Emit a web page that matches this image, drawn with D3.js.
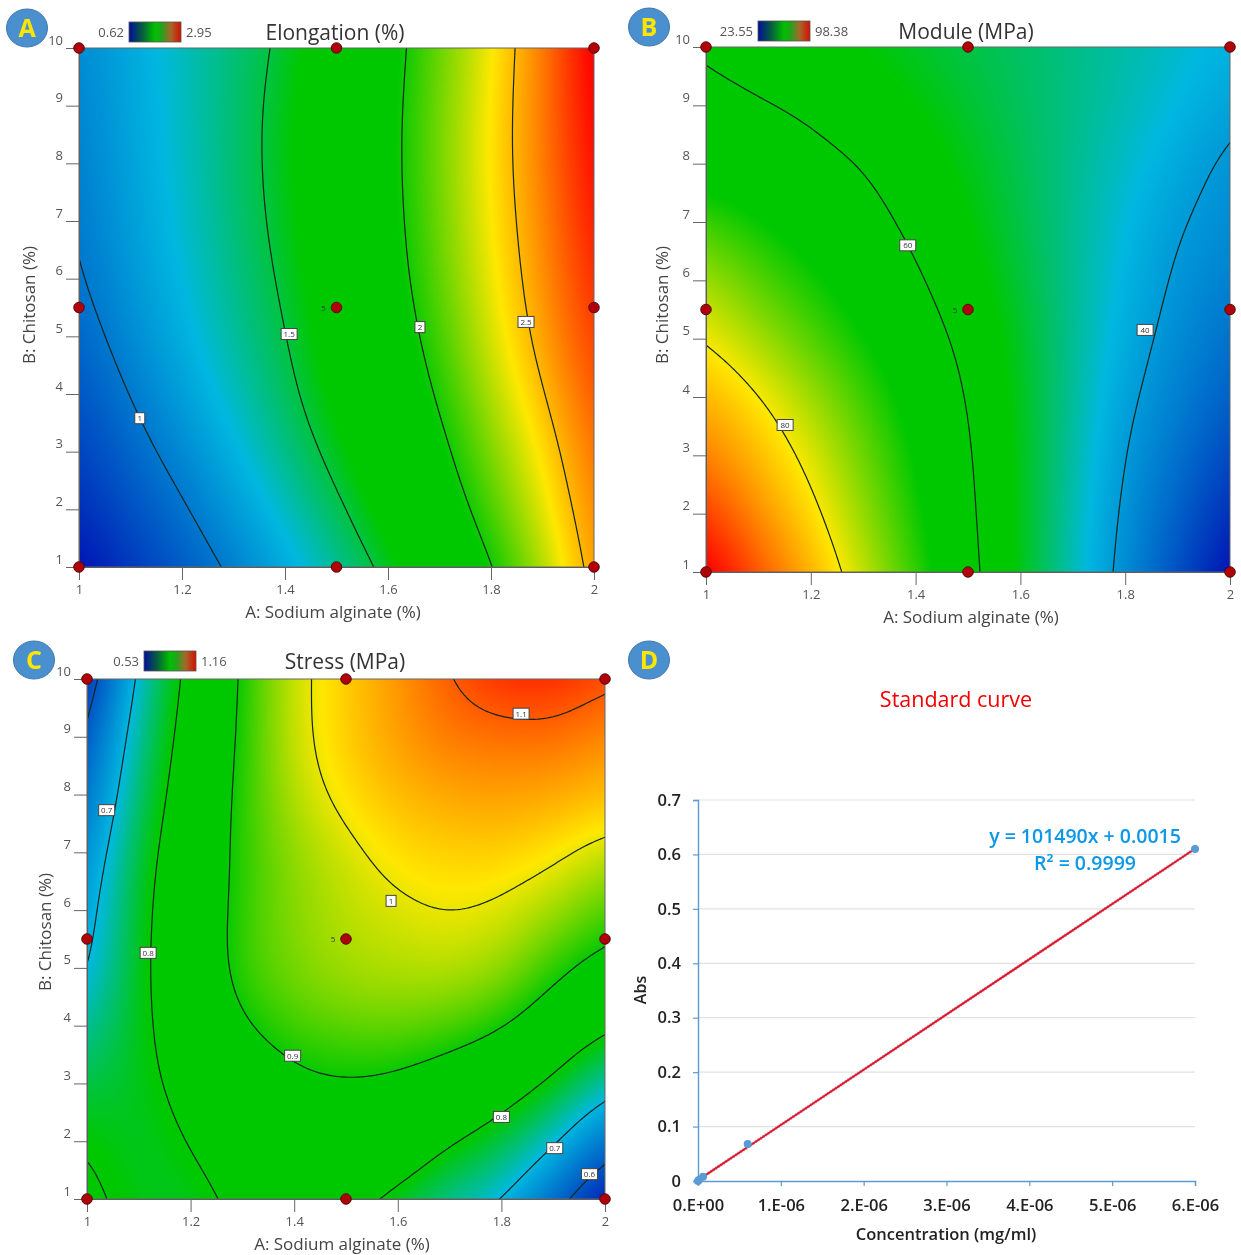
<!DOCTYPE html>
<html>
<head>
<meta charset="utf-8">
<script src="https://cdn.jsdelivr.net/npm/d3@7"></script>
<style>
body { margin: 0; background: #fff; }
svg { display: block; font-family: "Open Sans", sans-serif; filter: blur(0.45px); }
</style>
</head>
<body>
<div id="chart"></div>
<script>
// design space shared by the three response surfaces
var alginateValues = [1, 1.1, 1.2, 1.3, 1.4, 1.5, 1.6, 1.7, 1.8, 1.9, 2];
var chitosanValues = [1, 2, 3, 4, 5, 6, 7, 8, 9, 10];
var alginateTicks = [1, 1.2, 1.4, 1.6, 1.8, 2];
var chitosanTicks = [1, 2, 3, 4, 5, 6, 7, 8, 9, 10];
var designA = [1, 1.5, 2];
var designB = [1, 5.5, 10];

// one row per chitosan value (1 up to 10)
var elongationGrid = [
    [0.62, 0.756, 0.891, 1.034, 1.202, 1.37, 1.551, 1.771, 1.991, 2.258, 2.55],
    [0.72, 0.85, 0.98, 1.139, 1.303, 1.467, 1.667, 1.875, 2.098, 2.341, 2.6],
    [0.8, 0.929, 1.071, 1.23, 1.389, 1.559, 1.755, 1.951, 2.174, 2.407, 2.65],
    [0.87, 1.007, 1.157, 1.306, 1.455, 1.635, 1.827, 2.023, 2.256, 2.488, 2.72],
    [0.94, 1.076, 1.215, 1.354, 1.493, 1.683, 1.875, 2.083, 2.321, 2.556, 2.78],
    [0.99, 1.123, 1.255, 1.387, 1.529, 1.721, 1.913, 2.128, 2.36, 2.594, 2.83],
    [1.02, 1.15, 1.279, 1.409, 1.557, 1.745, 1.934, 2.151, 2.384, 2.623, 2.87],
    [1.04, 1.167, 1.294, 1.421, 1.571, 1.757, 1.944, 2.164, 2.399, 2.645, 2.9],
    [1.06, 1.181, 1.301, 1.422, 1.566, 1.753, 1.94, 2.16, 2.394, 2.653, 2.93],
    [1.08, 1.191, 1.303, 1.414, 1.538, 1.731, 1.923, 2.142, 2.377, 2.646, 2.95]
];
var moduleGrid = [
    [98.38, 91.3, 84.3, 77, 69.4, 61.8, 53.9, 46, 38.2, 30.9, 23.55],
    [93, 87.1, 81.2, 74.6, 67.9, 61.1, 53.8, 46.3, 39.1, 33, 27],
    [88, 83.5, 78.6, 72.6, 66.6, 60.6, 53.8, 46.9, 40, 35, 30],
    [84, 80.4, 75.4, 70.2, 65, 59.7, 53.5, 47.4, 41.2, 36.9, 33],
    [79.5, 75.4, 71.2, 67.1, 62.9, 58.4, 53.1, 47.7, 42.4, 38.2, 35],
    [75, 71.4, 67.9, 64.3, 60.7, 56.5, 52.1, 47.7, 43.3, 39.4, 37],
    [70, 67.3, 64.5, 61.8, 58.7, 55, 51.4, 47.7, 44, 40.4, 38.5],
    [64, 62.6, 61.3, 59.8, 56.9, 53.9, 50.9, 47.9, 45, 42, 39],
    [61.2, 60.5, 59.3, 57.1, 54.9, 52.6, 50.4, 48.2, 46, 43.7, 41.5],
    [59.5, 58, 56.5, 54.9, 53.2, 51.5, 50, 48.3, 46.6, 44.8, 43]
];
var stressGrid = [
    [0.808, 0.787, 0.785, 0.815, 0.84, 0.825, 0.785, 0.74, 0.7, 0.626, 0.55],
    [0.797, 0.78, 0.802, 0.835, 0.865, 0.875, 0.853, 0.81, 0.77, 0.71, 0.635],
    [0.765, 0.785, 0.82, 0.858, 0.885, 0.89, 0.885, 0.865, 0.835, 0.79, 0.73],
    [0.735, 0.785, 0.84, 0.895, 0.925, 0.94, 0.942, 0.93, 0.905, 0.86, 0.815],
    [0.697, 0.785, 0.855, 0.92, 0.95, 0.968, 0.975, 0.978, 0.962, 0.918, 0.88],
    [0.685, 0.78, 0.855, 0.915, 0.955, 0.978, 0.992, 1, 0.992, 0.968, 0.935],
    [0.665, 0.77, 0.85, 0.915, 0.958, 0.988, 1.014, 1.024, 1.024, 1.01, 0.985],
    [0.635, 0.75, 0.84, 0.915, 0.975, 1.014, 1.037, 1.05, 1.055, 1.05, 1.04],
    [0.612, 0.733, 0.83, 0.91, 0.985, 1.026, 1.057, 1.08, 1.085, 1.085, 1.07],
    [0.575, 0.712, 0.82, 0.907, 0.985, 1.026, 1.062, 1.098, 1.125, 1.128, 1.11]
];

// contour levels and where their little labels sit (alginate, chitosan, text)
var elongationLevels = [1, 1.5, 2, 2.5];
var moduleLevels = [40, 60, 80];
var stressLevels = [0.6, 0.7, 0.8, 0.9, 1, 1.1];
var elongationTags = [[1.118, 3.58, "1"], [1.408, 5.04, "1.5"], [1.662, 5.16, "2"], [1.868, 5.25, "2.5"]];
var moduleTags = [[1.151, 3.52, "80"], [1.385, 6.6, "60"], [1.838, 5.15, "40"]];
var stressTags = [[1.038, 7.73, "0.7"], [1.118, 5.26, "0.8"], [1.397, 3.48, "0.9"], [1.587, 6.16, "1"],
    [1.838, 9.4, "1.1"], [1.8, 2.42, "0.8"], [1.903, 1.88, "0.7"], [1.97, 1.43, "0.6"]];

// panel D, standard curve
var concTicks = [0, 1e-6, 2e-6, 3e-6, 4e-6, 5e-6, 6e-6];
var concLabels = ["0.E+00", "1.E-06", "2.E-06", "3.E-06", "4.E-06", "5.E-06", "6.E-06"];
var absTicks = [0, 0.1, 0.2, 0.3, 0.4, 0.5, 0.6, 0.7];
var concValues = [0, 1e-8, 6e-8, 6e-7, 6e-6];
var absValues = [0, 0.002, 0.008, 0.068, 0.61];
var fitSlope = 101490;
var fitIntercept = 0.0015;

var svg = d3.select("#chart").append("svg")
    .attr("width", 1241)
    .attr("height", 1255);
var defs = svg.append("defs");

// legend bar is darker than the surface itself
var legendStops = [[0, "#00109a"], [0.26, "#07603c"], [0.5, "#00c000"], [0.62, "#1fa51a"], [0.8, "#a5682a"], [1, "#d40f00"]];
var grad = defs.append("linearGradient").attr("id", "legendGrad");
legendStops.forEach(function(s) {
    grad.append("stop").attr("offset", s[0]).attr("stop-color", s[1]);
});

// surface colours with the flat green band in the middle
var surfaceStops = [0, 0.27, 0.42, 0.58, 0.76, 1];
var surfaceColors = ["#0018b4", "#00b8e0", "#00c800", "#00c800", "#ffe800", "#ff0000"];

// catmull-rom through four samples
function cubic(p0, p1, p2, p3, t) {
    return p1 + 0.5 * t * (p2 - p0 + t * (2 * p0 - 5 * p1 + 4 * p2 - p3 + t * (3 * (p1 - p2) + p3 - p0)));
}

// sample the read grid on a finer one so shading and contours come out smooth
function refine(grid, k, pad) {
    var rows = grid.length, cols = grid[0].length;
    var nx = (cols - 1) * k + 1 + 2 * pad;
    var ny = (rows - 1) * k + 1 + 2 * pad;
    var out = new Float64Array(nx * ny);
    function at(r, c) {
        return grid[Math.max(0, Math.min(rows - 1, r))][Math.max(0, Math.min(cols - 1, c))];
    }
    function idx(j, i) { return j * nx + i; }
    for (var j = pad; j < ny - pad; j++) {
        var gy = (j - pad) / k;
        var r = Math.min(rows - 2, Math.floor(gy)), ty = gy - r;
        for (var i = pad; i < nx - pad; i++) {
            var gx = (i - pad) / k;
            var c = Math.min(cols - 2, Math.floor(gx)), tx = gx - c;
            var col = [];
            for (var q = -1; q < 3; q++) {
                col.push(cubic(at(r + q, c - 1), at(r + q, c), at(r + q, c + 1), at(r + q, c + 2), tx));
            }
            out[idx(j, i)] = cubic(col[0], col[1], col[2], col[3], ty);
        }
    }
    // mirror the trend past the edges, the blur below then keeps the edge values
    for (j = pad; j < ny - pad; j++) {
        for (i = 1; i <= pad; i++) {
            out[idx(j, pad - i)] = 2 * out[idx(j, pad)] - out[idx(j, pad + i)];
            out[idx(j, nx - pad - 1 + i)] = 2 * out[idx(j, nx - pad - 1)] - out[idx(j, nx - pad - 1 - i)];
        }
    }
    for (i = 0; i < nx; i++) {
        for (j = 1; j <= pad; j++) {
            out[idx(pad - j, i)] = 2 * out[idx(pad, i)] - out[idx(pad + j, i)];
            out[idx(ny - pad - 1 + j, i)] = 2 * out[idx(ny - pad - 1, i)] - out[idx(ny - pad - 1 - j, i)];
        }
    }
    d3.blur2({ data: out, width: nx, height: ny }, 7, 13);
    return { values: out, nx: nx, ny: ny };
}

function drawSurface(p) {
    var g = svg.append("g");
    var x = d3.scaleLinear().domain(d3.extent(alginateValues)).range([p.left, p.right]);
    var y = d3.scaleLinear().domain(d3.extent(chitosanValues)).range([p.bottom, p.top]);

    var color = d3.scaleLinear()
        .domain(surfaceStops.map(function(s) { return p.min + s * (p.max - p.min); }))
        .range(surfaceColors)
        .clamp(true);

    // shaded surface painted to a canvas, then placed as an image
    var k = 25, pad = 24;
    var field = refine(p.grid, k, pad);
    var w = field.nx - 2 * pad, h = field.ny - 2 * pad;
    var canvas = document.createElement("canvas");
    canvas.width = w;
    canvas.height = h;
    var ctx = canvas.getContext("2d");
    var img = ctx.createImageData(w, h);
    for (var j = 0; j < h; j++) {
        for (var i = 0; i < w; i++) {
            var v = field.values[(field.ny - pad - 1 - j) * field.nx + i + pad];
            var c = d3.rgb(color(v));
            var o = (j * w + i) * 4;
            img.data[o] = c.r;
            img.data[o + 1] = c.g;
            img.data[o + 2] = c.b;
            img.data[o + 3] = 255;
        }
    }
    ctx.putImageData(img, 0, 0);
    g.append("image")
        .attr("href", canvas.toDataURL())
        .attr("x", p.left)
        .attr("y", p.top)
        .attr("width", p.right - p.left)
        .attr("height", p.bottom - p.top)
        .attr("preserveAspectRatio", "none");

    // contours, clipped so the closing edges on the padded border stay hidden
    var clipId = "clip" + p.letter;
    defs.append("clipPath").attr("id", clipId).append("rect")
        .attr("x", p.left).attr("y", p.top)
        .attr("width", p.right - p.left).attr("height", p.bottom - p.top);
    var colToA = d3.scaleLinear().domain([pad, pad + k * (alginateValues.length - 1)]).range(d3.extent(alginateValues));
    var rowToB = d3.scaleLinear().domain([pad, pad + k * (chitosanValues.length - 1)]).range(d3.extent(chitosanValues));
    var toPlot = d3.geoTransform({
        point: function(cx, cy) {
            this.stream.point(x(colToA(cx - 0.5)), y(rowToB(cy - 0.5)));
        }
    });
    var contours = d3.contours()
        .size([field.nx, field.ny])
        .thresholds(p.levels)(Array.from(field.values));
    g.append("g")
        .attr("clip-path", "url(#" + clipId + ")")
        .selectAll("path")
        .data(contours)
        .enter().append("path")
        .attr("d", d3.geoPath(toPlot))
        .attr("fill", "none")
        .attr("stroke", "#10261c")
        .attr("stroke-width", 1.2);

    // axes
    var yAxis = g.append("g")
        .attr("transform", "translate(" + p.left + ",0)")
        .call(d3.axisLeft(y).tickValues(chitosanTicks).tickSize(13).tickPadding(3).tickFormat(d3.format("d")));
    var xAxis = g.append("g")
        .attr("transform", "translate(0," + p.bottom + ")")
        .call(d3.axisBottom(x).tickValues(alginateTicks).tickSize(13).tickPadding(5).tickFormat(function(d) { return d; }));
    yAxis.selectAll("text").attr("dy", "-0.3em");
    [xAxis, yAxis].forEach(function(a) {
        a.selectAll("text")
            .attr("fill", "#555")
            .style("font-size", "13px")
            .style("font-family", '"Open Sans", sans-serif');
        a.selectAll("line").attr("stroke", "#666");
        a.select(".domain").attr("stroke", "#555");
    });
    g.append("rect")
        .attr("x", p.left).attr("y", p.top)
        .attr("width", p.right - p.left).attr("height", p.bottom - p.top)
        .attr("fill", "none")
        .attr("stroke", "#666");

    // axis titles
    g.append("text")
        .attr("x", p.xTitleX)
        .attr("y", p.bottom + 51)
        .attr("text-anchor", "middle")
        .attr("fill", "#444")
        .style("font-size", "17px")
        .text("A: Sodium alginate (%)");
    g.append("text")
        .attr("transform", "translate(" + p.yTitleX + "," + p.yTitleY + ") rotate(-90)")
        .attr("text-anchor", "middle")
        .attr("fill", "#444")
        .style("font-size", "17px")
        .text("B: Chitosan (%)");

    // contour labels
    var tag = g.append("g").selectAll("g")
        .data(p.tags)
        .enter().append("g")
        .attr("transform", function(d) { return "translate(" + x(d[0]) + "," + y(d[1]) + ")"; });
    tag.append("rect")
        .attr("x", function(d) { return d[2].length > 1 ? -8 : -5; })
        .attr("y", -5.5)
        .attr("width", function(d) { return d[2].length > 1 ? 16 : 10; })
        .attr("height", 11)
        .attr("fill", "#fff")
        .attr("stroke", "#444")
        .attr("stroke-width", 1);
    tag.append("text")
        .attr("text-anchor", "middle")
        .attr("y", 3)
        .attr("fill", "#333")
        .style("font-size", "8px")
        .text(function(d) { return d[2]; });

    // design points
    var points = [];
    designA.forEach(function(a) {
        designB.forEach(function(b) { points.push([a, b]); });
    });
    g.append("g").selectAll("circle")
        .data(points)
        .enter().append("circle")
        .attr("cx", function(d) { return x(d[0]); })
        .attr("cy", function(d) { return y(d[1]); })
        .attr("r", 5.3)
        .attr("fill", "#b00008")
        .attr("stroke", "#4a0a0a")
        .attr("stroke-width", 0.9);
    g.append("text")
        .attr("x", x(1.5) - 13)
        .attr("y", y(5.5) + 3)
        .attr("text-anchor", "middle")
        .attr("fill", "#333")
        .style("font-size", "8px")
        .text("5");

    // title and colour key
    g.append("text")
        .attr("x", p.titleX)
        .attr("y", p.keyY + 8)
        .attr("text-anchor", "middle")
        .attr("fill", "#333")
        .style("font-size", "21px")
        .text(p.title);
    g.append("rect")
        .attr("x", p.keyX)
        .attr("y", p.keyY - 10)
        .attr("width", 52)
        .attr("height", 20)
        .attr("fill", "url(#legendGrad)")
        .attr("stroke", "#555")
        .attr("stroke-width", 0.8);
    g.append("text")
        .attr("x", p.keyX - 5)
        .attr("y", p.keyY + 5)
        .attr("text-anchor", "end")
        .attr("fill", "#555")
        .style("font-size", "13px")
        .text(p.minLabel);
    g.append("text")
        .attr("x", p.keyX + 57)
        .attr("y", p.keyY + 5)
        .attr("fill", "#555")
        .style("font-size", "13px")
        .text(p.maxLabel);
}

function drawBadge(cx, cy, letter) {
    svg.append("ellipse")
        .attr("cx", cx).attr("cy", cy)
        .attr("rx", 20.5).attr("ry", 19)
        .attr("fill", "#4a8fce")
        .attr("stroke", "#3f78ad");
    svg.append("text")
        .attr("x", cx).attr("y", cy + 9)
        .attr("text-anchor", "middle")
        .attr("fill", "#ffe600")
        .style("font-size", "25px")
        .style("font-weight", "700")
        .text(letter);
}

drawSurface({ letter: "A", grid: elongationGrid, levels: elongationLevels, tags: elongationTags,
    min: 0.62, max: 2.95, minLabel: "0.62", maxLabel: "2.95", title: "Elongation (%)",
    left: 79, right: 594, top: 48, bottom: 567, keyX: 129, keyY: 32, titleX: 335,
    xTitleX: 333, yTitleX: 35, yTitleY: 305 });
drawSurface({ letter: "B", grid: moduleGrid, levels: moduleLevels, tags: moduleTags,
    min: 23.55, max: 98.38, minLabel: "23.55", maxLabel: "98.38", title: "Module (MPa)",
    left: 706, right: 1230, top: 47, bottom: 572, keyX: 758, keyY: 31, titleX: 966,
    xTitleX: 971, yTitleX: 668, yTitleY: 305 });
drawSurface({ letter: "C", grid: stressGrid, levels: stressLevels, tags: stressTags,
    min: 0.53, max: 1.16, minLabel: "0.53", maxLabel: "1.16", title: "Stress (MPa)",
    left: 87, right: 605, top: 679, bottom: 1199, keyX: 144, keyY: 661, titleX: 345,
    xTitleX: 342, yTitleX: 51, yTitleY: 932 });

// standard curve
var dx = d3.scaleLinear().domain([0, 6e-6]).range([698, 1195]);
var dy = d3.scaleLinear().domain([0, 0.7]).range([1181, 800]);
var d = svg.append("g");

d.append("g").selectAll("line")
    .data(absTicks.slice(1))
    .enter().append("line")
    .attr("x1", dx(0)).attr("x2", dx(6e-6))
    .attr("y1", function(v) { return dy(v); })
    .attr("y2", function(v) { return dy(v); })
    .attr("stroke", "#e2e2e2")
    .attr("stroke-width", 1.2);

var dyAxis = d.append("g")
    .attr("transform", "translate(" + dx(0) + ",0)")
    .call(d3.axisLeft(dy).tickValues(absTicks).tickSize(5).tickPadding(12).tickFormat(function(v) { return v; }));
var dxAxis = d.append("g")
    .attr("transform", "translate(0," + dy(0) + ")")
    .call(d3.axisBottom(dx).tickValues(concTicks).tickSize(5).tickPadding(13).tickFormat(function(v, i) { return concLabels[i]; }));
[dxAxis, dyAxis].forEach(function(a) {
    a.select(".domain").attr("stroke", "#5b9bd5").attr("stroke-width", 1.4);
    a.selectAll("line").attr("stroke", "#5b9bd5").attr("stroke-width", 1.2);
    a.selectAll("text")
        .attr("fill", "#222")
        .style("font-size", "16.5px")
        .style("font-weight", "600")
        .style("font-family", '"Open Sans", sans-serif');
});

var fitLine = d3.line()
    .x(function(v) { return dx(v); })
    .y(function(v) { return dy(fitSlope * v + fitIntercept); });
d.append("path")
    .attr("d", fitLine([0, 6e-6]))
    .attr("fill", "none")
    .attr("stroke", "#9cc4e8")
    .attr("stroke-width", 3.5)
    .attr("stroke-dasharray", "1.5 1.5");
d.append("path")
    .attr("d", fitLine([0, 6e-6]))
    .attr("fill", "none")
    .attr("stroke", "#ee1020")
    .attr("stroke-width", 2);

d.append("g").selectAll("circle")
    .data(concValues)
    .enter().append("circle")
    .attr("cx", function(v) { return dx(v); })
    .attr("cy", function(v, i) { return dy(absValues[i]); })
    .attr("r", 4)
    .attr("fill", "#5b9bd5");

d.append("text")
    .attr("x", 956).attr("y", 707)
    .attr("text-anchor", "middle")
    .attr("fill", "#f00000")
    .style("font-size", "21.5px")
    .text("Standard curve");
d.append("text")
    .attr("x", 1085).attr("y", 843)
    .attr("text-anchor", "middle")
    .attr("fill", "#0b98e6")
    .style("font-size", "19.5px")
    .style("font-weight", "600")
    .text("y = 101490x + 0.0015");
d.append("text")
    .attr("x", 1085).attr("y", 870)
    .attr("text-anchor", "middle")
    .attr("fill", "#0b98e6")
    .style("font-size", "19.5px")
    .style("font-weight", "600")
    .text("R² = 0.9999");
d.append("text")
    .attr("x", 946).attr("y", 1240)
    .attr("text-anchor", "middle")
    .attr("fill", "#222")
    .style("font-size", "16.5px")
    .style("font-weight", "600")
    .text("Concentration (mg/ml)");
d.append("text")
    .attr("transform", "translate(646,990) rotate(-90)")
    .attr("text-anchor", "middle")
    .attr("fill", "#222")
    .style("font-size", "16px")
    .style("font-weight", "600")
    .text("Abs");

drawBadge(27, 28, "A");
drawBadge(649, 27, "B");
drawBadge(34, 660, "C");
drawBadge(649, 660, "D");
</script>
</body>
</html>
